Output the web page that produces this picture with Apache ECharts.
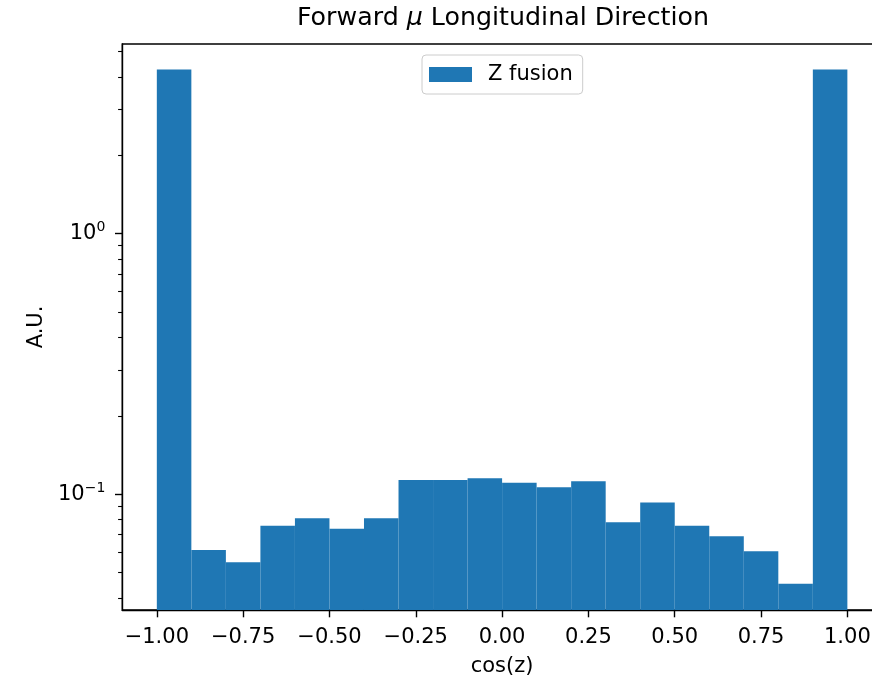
<!DOCTYPE html>
<html>
<head>
<meta charset="utf-8">
<script src="https://cdn.jsdelivr.net/npm/echarts@6/dist/echarts.min.js"></script>
<style>
html,body{margin:0;padding:0;background:#fff;overflow:hidden;}
#chart{width:900px;height:676px;}
</style>
</head>
<body>
<div id="chart"></div>
<script>
// Bin edges of the histogram (cos(z))
const binEdges = [-1.0, -0.9, -0.8, -0.7, -0.6, -0.5, -0.4, -0.3, -0.2, -0.1, 0.0,
                  0.1, 0.2, 0.3, 0.4, 0.5, 0.6, 0.7, 0.8, 0.9, 1.0];
// Bin heights (A.U., density)
const zFusion = [4.27, 0.0611, 0.0548, 0.0758, 0.0809, 0.0738, 0.0809, 0.1135, 0.1135, 0.1151,
                 0.1108, 0.1064, 0.1122, 0.0781, 0.0929, 0.0758, 0.0690, 0.0604, 0.0454, 4.27];
// Tick values
const xTicks = [-1.0, -0.75, -0.5, -0.25, 0.0, 0.25, 0.5, 0.75, 1.0];
const yMajorTicks = [0.1, 1];
const yMinorTicks = [0.04, 0.05, 0.06, 0.07, 0.08, 0.09, 0.2, 0.3, 0.4, 0.5, 0.6, 0.7, 0.8, 0.9, 2, 3, 4, 5];

const X_MIN = -1.1, X_MAX = 1.1;
const Y_MIN = 0.03597, Y_MAX = 5.345;
const BLUE = '#1f77b4';
const FONT = 'DejaVu Sans';

const histData = zFusion.map((v, i) => [binEdges[i], binEdges[i + 1], v]);

function fmtX(v) {
  const s = Math.abs(v).toFixed(2);
  return (v < -1e-9 ? '\u2212' : '') + s;
}
function fmtY(v) {
  const l = Math.log10(v);
  const e = Math.round(l);
  if (Math.abs(l - e) > 1e-6) return '';
  const es = (e < 0 ? '\u2212' : '') + Math.abs(e);
  return '10{sup|' + es + '}';
}

const chart = echarts.init(document.getElementById('chart'), null, {renderer: 'canvas'});
chart.setOption({
  animation: false,
  backgroundColor: '#fff',
  textStyle: {fontFamily: FONT},
  title: {
    text: 'Forward {mu|\u03bc} Longitudinal Direction',
    left: 503,
    top: 6,
    padding: 0,
    textAlign: 'center',
    textStyle: {
      fontFamily: FONT, fontSize: 25.3, fontWeight: 'normal', color: '#000',
      rich: {mu: {fontFamily: FONT, fontSize: 25.3, fontStyle: 'italic', color: '#000'}}
    }
  },
  legend: {
    data: [{name: 'Z fusion', icon: 'rect'}],
    left: 422,
    top: 55,
    orient: 'horizontal',
    itemWidth: 43,
    itemHeight: 15,
    padding: [9, 10, 9, 7],
    borderColor: '#cccccc',
    borderWidth: 1,
    borderRadius: 4,
    backgroundColor: 'rgba(255,255,255,0.8)',
    selectedMode: false,
    formatter: function (name) { return '{g|}' + name; },
    textStyle: {
      fontFamily: FONT, fontSize: 21, color: '#000',
      rich: {g: {width: 11, fontSize: 21}}
    }
  },
  grid: {
    left: 122.3,
    top: 44,
    width: 759.6,
    height: 566,
    show: true,
    borderColor: '#000',
    borderWidth: 1.4,
    backgroundColor: 'transparent',
    containLabel: false,
    outerBoundsMode: 'none'
  },
  xAxis: {
    type: 'value',
    min: X_MIN,
    max: X_MAX,
    name: 'cos(z)',
    nameLocation: 'middle',
    nameGap: 46,
    nameTextStyle: {fontFamily: FONT, fontSize: 21, color: '#000'},
    axisLine: {show: true, onZero: false, lineStyle: {color: '#000', width: 1.4}},
    axisTick: {show: true, length: 7.3, lineStyle: {color: '#000', width: 1.4}, customValues: xTicks},
    axisLabel: {show: true, margin: 17, fontFamily: FONT, fontSize: 21, color: '#000', formatter: fmtX, customValues: xTicks},
    splitLine: {show: false},
    minorTick: {show: false}
  },
  yAxis: [{
    type: 'log',
    logBase: 10,
    min: Y_MIN,
    max: Y_MAX,
    position: 'left',
    name: 'A.U.',
    nameLocation: 'middle',
    nameGap: 75,
    nameTextStyle: {fontFamily: FONT, fontSize: 21, color: '#000'},
    axisLine: {show: true, onZero: false, lineStyle: {color: '#000', width: 1.4}},
    axisTick: {show: true, length: 7.3, lineStyle: {color: '#000', width: 1.4}, customValues: yMajorTicks},
    axisLabel: {
      show: true, margin: 17, fontFamily: FONT, fontSize: 21, color: '#000',
      formatter: fmtY, customValues: yMajorTicks,
      rich: {sup: {fontFamily: FONT, fontSize: 14, color: '#000', verticalAlign: 'top', padding: [0, 0, 12, 0]}}
    },
    splitLine: {show: false}
  }, {
    type: 'log',
    logBase: 10,
    min: Y_MIN,
    max: Y_MAX,
    position: 'left',
    axisLine: {show: false, onZero: false},
    axisTick: {show: true, length: 4.2, lineStyle: {color: '#000', width: 1.1}, customValues: yMinorTicks},
    axisLabel: {show: false, customValues: yMinorTicks},
    splitLine: {show: false}
  }],
  series: [{
    name: 'Z fusion',
    type: 'custom',
    xAxisIndex: 0,
    yAxisIndex: 0,
    itemStyle: {color: BLUE},
    encode: {x: [0, 1], y: 2},
    data: histData,
    clip: true,
    renderItem: function (params, api) {
      const x0 = api.value(0), x1 = api.value(1), y = api.value(2);
      const p0 = api.coord([x0, Y_MIN]);
      const p1 = api.coord([x1, y]);
      return {
        type: 'rect',
        shape: {x: p0[0], y: p1[1], width: p1[0] - p0[0], height: p0[1] - p1[1]},
        style: {fill: BLUE, stroke: null}
      };
    }
  }]
});
</script>
</body>
</html>
